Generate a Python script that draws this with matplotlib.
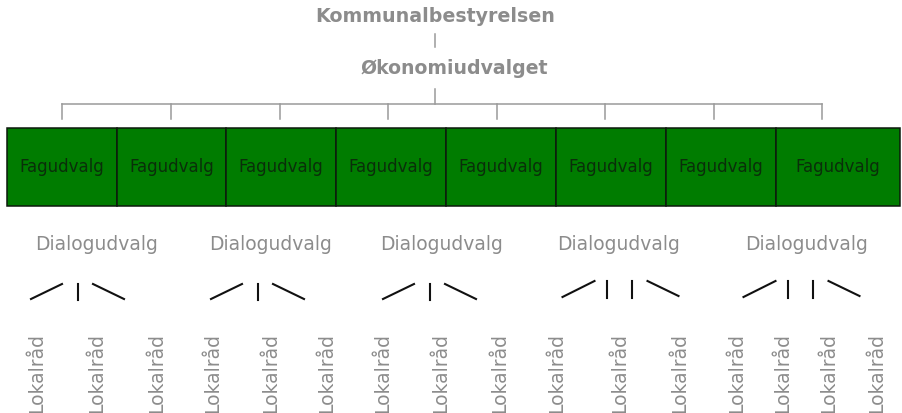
import matplotlib
matplotlib.use('Agg')
import numpy as np
import matplotlib.pyplot as plt
from matplotlib.patches import Rectangle

# data: the structure of the organisation
top_labels = ['Kommunalbestyrelsen', 'Økonomiudvalget']
fag_labels = ['Fagudvalg'] * 8
dialog_labels = ['Dialogudvalg'] * 5
lokal_per_dialog = [3, 3, 3, 3, 4]
bars_per_dialog = [1, 1, 1, 2, 2]
lokal_label = 'Lokalråd'

# layout in pixels (figure is 902 x 413)
W, H = 902, 413
fag_edges = [7, 117, 226, 336, 446, 556, 666, 776, 900]
fag_ticks = [62, 171, 280, 388, 497, 605, 714, 822]
lokal_x = [37, 97, 157, 213, 271, 327, 383, 441, 500,
           557, 620, 680, 737, 783, 829, 877]
conn_mid = [78, 258, 430, 619.5, 800.5]

grey = '#8c8c8c'
linegrey = '#9a9a9a'
black = '#111111'

fig = plt.figure(figsize=(W/100, H/100), dpi=100)
ax = fig.add_axes([0, 0, 1, 1])
ax.set_xlim(0, W)
ax.set_ylim(H, 0)
ax.axis('off')

# top of the tree
ax.text(435, 17, top_labels[0], ha='center', va='center', fontsize=13.7,
        fontweight='bold', color=grey)
ax.plot([435, 435], [34, 47], color=linegrey, lw=1.1)
ax.text(454, 68, top_labels[1], ha='center', va='center', fontsize=13.6,
        fontweight='bold', color=grey)
ax.plot([435, 435], [89, 104], color=linegrey, lw=1.1)
ax.plot([fag_ticks[0], fag_ticks[-1]], [104, 104], color=linegrey, lw=1.1)
for x in fag_ticks:
    ax.plot([x, x], [104, 119], color=linegrey, lw=1.1)

# green band of Fagudvalg
for i, lab in enumerate(fag_labels):
    x0, x1 = fag_edges[i], fag_edges[i+1]
    ax.add_patch(Rectangle((x0, 128), x1 - x0, 78, facecolor='#007c00',
                           edgecolor='#0d1a0d', lw=1.1))
    ax.text((x0 + x1) / 2, 167, lab, ha='center', va='center',
            fontsize=12, color='#0a2e0a')

# Dialogudvalg and Lokalråd
k = 0
for g, n in enumerate(lokal_per_dialog):
    xs = lokal_x[k:k+n]
    k += n
    ax.text(np.mean(xs), 245, dialog_labels[g], ha='center', va='center',
            fontsize=13.5, color=grey)
    m = conn_mid[g]
    if bars_per_dialog[g] == 1:
        ax.plot([m-47, m-16], [299, 284], color=black, lw=1.5)
        ax.plot([m, m], [284, 300], color=black, lw=1.5)
        ax.plot([m+15, m+46], [284, 299], color=black, lw=1.5)
    else:
        ax.plot([m-57, m-25], [297, 281], color=black, lw=1.5)
        ax.plot([m-12.5, m-12.5], [281, 298], color=black, lw=1.5)
        ax.plot([m+12.5, m+12.5], [281, 298], color=black, lw=1.5)
        ax.plot([m+28, m+59], [281, 296], color=black, lw=1.5)
    for x in xs:
        ax.text(x, 413, lokal_label, ha='center', va='bottom', rotation=90,
                fontsize=13.5, color=grey)

fig.savefig('out.png', dpi=100, facecolor='white')
